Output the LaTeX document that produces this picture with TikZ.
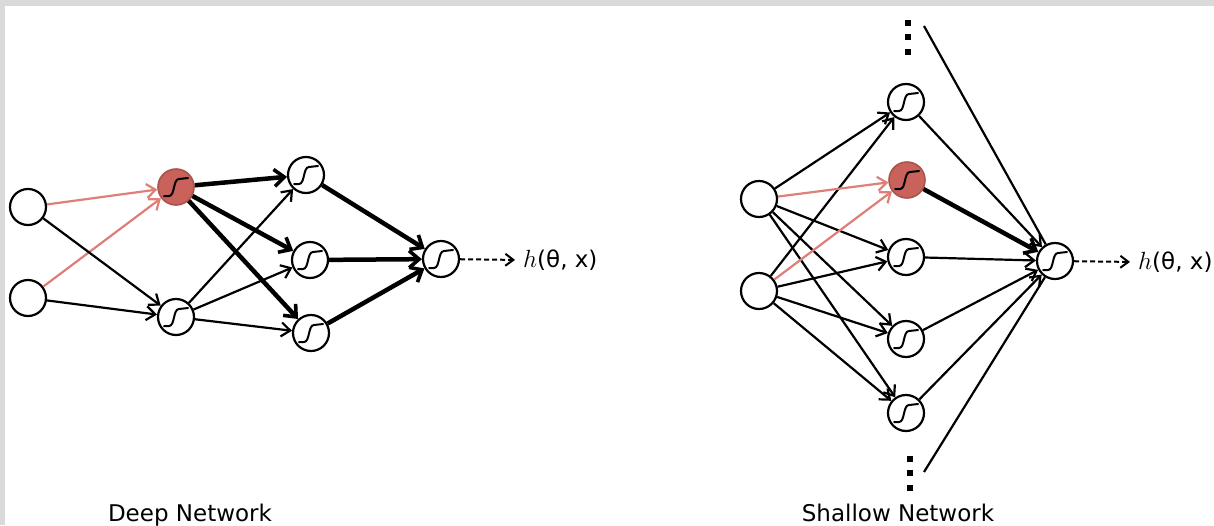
\documentclass[tikz,border=0pt]{standalone}
\usepackage{fontspec}
\setmainfont{DejaVu Sans}
\usetikzlibrary{arrows.meta}
\definecolor{redfill}{RGB}{200,98,90}
\definecolor{redline}{RGB}{222,128,120}
\definecolor{framegray}{RGB}{218,218,218}
\tikzset{
 neuron/.style={circle, draw=black, line width=2.2pt, minimum size=36pt, inner sep=0pt, fill=white},
 hot/.style={neuron, fill=redfill, draw=redfill!85!black, line width=1.6pt},
 sigline/.style={line width=2pt, line cap=round, line join=round},
 conn/.style={line width=2.2pt, -{Straight Barb[length=9pt,width=14pt,line width=2.2pt]}},
 thickconn/.style={line width=4.5pt, -{Straight Barb[length=10pt,width=17pt,line width=3.6pt]}},
 redconn/.style={conn, draw=redline},
 plainline/.style={line width=2.2pt},
 dashedout/.style={line width=2pt, dash pattern=on 5pt off 3pt, -{Straight Barb[length=8pt,width=12pt,line width=2pt,sep=0pt]}, shorten >=8pt},
 lab/.style={font=\fontsize{23}{27}\selectfont, inner sep=0pt},
 dotsq/.style={fill=black, minimum size=6pt, inner sep=0pt, rectangle}
}
\newcommand\sigmoid[1]{\draw[sigline, shift={(#1.center)}] (-12,9) -- (-7,9) .. controls (-1,9) and (-3,-8) .. (3,-8) -- (12,-9);}
\begin{document}
\begin{tikzpicture}[x=1pt,y=-1pt]
\useasboundingbox (0,0) rectangle (1214,525);
\fill[white] (0,0) rectangle (1214,525);
\fill[framegray] (0,0) rectangle (1214,6);
\fill[framegray] (0,0) rectangle (5,525);

% ---------- Deep network ----------
\node[neuron] (din1) at (28,207) {};
\node[neuron] (din2) at (28,298) {};
\node[hot] (dh1) at (176,187) {};
\node[neuron] (dh2) at (176,317) {};
\node[neuron] (da) at (306,175) {};
\node[neuron] (db) at (310,260) {};
\node[neuron] (dc) at (311,333) {};
\node[neuron] (dout) at (441,259) {};
\foreach \n in {dh1,dh2,da,db,dc,dout} {\sigmoid{\n}}
\node[lab, anchor=west] (dtxt) at (523,260) {$h$(θ, x)};

\draw[redconn] (din1) -- (dh1);
\draw[redconn] (din2) -- (dh1);
\draw[conn] (din1) -- (dh2);
\draw[conn] (din2) -- (dh2);
\draw[thickconn] (dh1) -- (da);
\draw[thickconn] (dh1) -- (db);
\draw[thickconn] (dh1) -- (dc);
\draw[conn] (dh2) -- (da);
\draw[conn] (dh2) -- (db);
\draw[conn] (dh2) -- (dc);
\draw[thickconn] (da) -- (dout);
\draw[thickconn] (db) -- (dout);
\draw[thickconn] (dc) -- (dout);
\draw[dashedout] (dout) -- (dtxt.west);

\node[lab, anchor=base] (dcap) at (190,521) {Deep Network};

% ---------- Shallow network ----------
\node[neuron] (sin1) at (759,199) {};
\node[neuron] (sin2) at (759,291) {};
\node[neuron] (sh1) at (906,102) {};
\node[hot] (sh2) at (907,180) {};
\node[neuron] (sh3) at (906,257) {};
\node[neuron] (sh4) at (906,339) {};
\node[neuron] (sh5) at (906,413) {};
\node[neuron] (sout) at (1055,261) {};
\foreach \n in {sh1,sh2,sh3,sh4,sh5,sout} {\sigmoid{\n}}
\node[lab, anchor=west] (stxt) at (1138,262) {$h$(θ, x)};

\node[dotsq] (td1) at (908,23) {};
\node[dotsq] (td2) at (908,37) {};
\node[dotsq] (td3) at (908,52) {};
\node[dotsq] (bd1) at (910,459) {};
\node[dotsq] (bd2) at (910,473) {};
\node[dotsq] (bd3) at (910,488) {};
\coordinate (stop) at (924,26);
\coordinate (sbot) at (924,472);

\foreach \h in {sh1,sh3,sh4,sh5} {
  \draw[conn] (sin1) -- (\h);
  \draw[conn] (sin2) -- (\h);
}
\draw[redconn] (sin1) -- (sh2);
\draw[redconn] (sin2) -- (sh2);

\draw[plainline] (stop) -- (sout);
\draw[plainline] (sbot) -- (sout);
\draw[conn] (sh1) -- (sout);
\draw[thickconn] (sh2) -- (sout);
\draw[conn] (sh3) -- (sout);
\draw[conn] (sh4) -- (sout);
\draw[conn] (sh5) -- (sout);
\draw[dashedout] (sout) -- (stxt.west);

\node[lab, anchor=base] (scap) at (898,521) {Shallow Network};
\end{tikzpicture}
\end{document}
